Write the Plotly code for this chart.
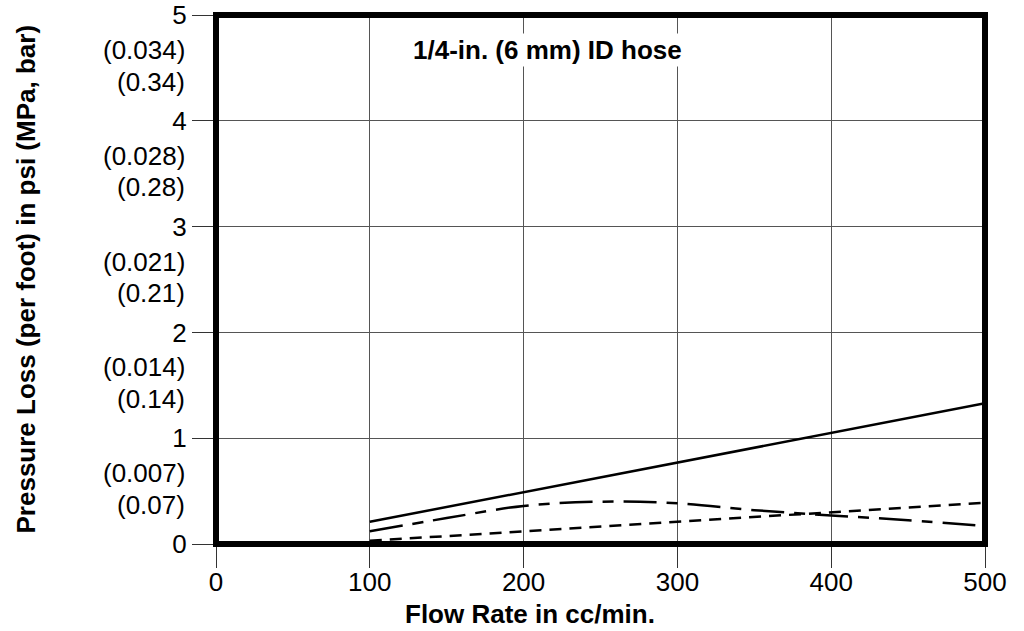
import plotly.graph_objects as go

# ---- data ----
flow_solid = [100, 200, 300, 400, 500]
loss_solid = [0.21, 0.49, 0.775, 1.05, 1.33]

flow_longdash = [100, 150, 200, 250, 300, 350, 400, 450, 500]
loss_longdash = [0.12, 0.245, 0.36, 0.40, 0.385, 0.32, 0.27, 0.225, 0.17]

flow_shortdash = [100, 200, 300, 400, 500]
loss_shortdash = [0.03, 0.12, 0.21, 0.30, 0.39]

x_ticks = [0, 100, 200, 300, 400, 500]
y_ticks = [0, 1, 2, 3, 4, 5]
mpa_labels = ["(0.007)", "(0.014)", "(0.021)", "(0.028)", "(0.034)"]
bar_labels = ["(0.07)", "(0.14)", "(0.21)", "(0.28)", "(0.34)"]
metric_ticks = [1, 2, 3, 4, 5]

FONT = "Liberation Sans, Arial, Helvetica, sans-serif"
FS = 26

fig = go.Figure()
fig.add_trace(go.Scatter(x=flow_solid, y=loss_solid, mode="lines",
                         line=dict(color="black", width=2.5), showlegend=False))
fig.add_trace(go.Scatter(x=flow_longdash, y=loss_longdash, mode="lines",
                         line=dict(color="black", width=2.5, shape="spline",
                                   dash="33px,10px,11px,10px"), showlegend=False))
fig.add_trace(go.Scatter(x=flow_shortdash, y=loss_shortdash, mode="lines",
                         line=dict(color="black", width=2.5, dash="12px,8px"),
                         showlegend=False))

annotations = []
for t, m, b in zip(metric_ticks, mpa_labels, bar_labels):
    annotations.append(dict(x=0, xref="paper", y=t - 0.33, yref="y", text=m,
                            showarrow=False, xanchor="right", yanchor="middle",
                            xshift=-29, font=dict(size=FS, color="black", family=FONT)))
    annotations.append(dict(x=0, xref="paper", y=t - 0.63, yref="y", text=b,
                            showarrow=False, xanchor="right", yanchor="middle",
                            xshift=-29, font=dict(size=FS, color="black", family=FONT)))

annotations.append(dict(x=0.431, xref="paper", y=4.67, yref="y",
                        text="<b>1/4-in. (6 mm) ID hose</b>", showarrow=False,
                        xanchor="center", yanchor="middle", bgcolor="white",
                        font=dict(size=FS, color="black", family=FONT)))
annotations.append(dict(x=0.408, xref="paper", y=-0.133, yref="paper",
                        text="<b>Flow Rate in cc/min.</b>", showarrow=False,
                        xanchor="center", yanchor="middle",
                        font=dict(size=FS, color="black", family=FONT)))
annotations.append(dict(x=0, xref="paper", xshift=-191, y=0.5, yref="paper",
                        text="<b>Pressure Loss (per foot) in psi (MPa, bar)</b>",
                        textangle=-90, showarrow=False,
                        xanchor="center", yanchor="middle",
                        font=dict(size=FS, color="black", family=FONT)))

fig.update_layout(
    width=1024, height=631,
    margin=dict(l=216, r=39, t=15, b=87),
    paper_bgcolor="white", plot_bgcolor="white",
    font=dict(family=FONT, size=FS, color="black"),
    annotations=annotations,
    shapes=[dict(type="rect", xref="paper", yref="paper", x0=0, y0=0, x1=1, y1=1,
                 line=dict(color="black", width=6), layer="above")],
    xaxis=dict(range=[0, 500], tickvals=x_ticks, showgrid=True, automargin=False,
               gridcolor="#555555", gridwidth=1, zeroline=False, showline=False,
               ticks="outside", ticklen=23, tickwidth=1, tickcolor="#333333",
               ticklabelstandoff=-8, ticklabeloverflow="allow",
               tickfont=dict(size=FS, family=FONT, color="black")),
    yaxis=dict(range=[0, 5], tickvals=y_ticks, showgrid=True, automargin=False,
               gridcolor="#555555", gridwidth=1, zeroline=False, showline=False,
               ticks="outside", ticklen=23, tickwidth=1, tickcolor="#333333",
               ticklabeloverflow="allow",
               tickfont=dict(size=FS, family=FONT, color="black")),
)

fig.write_html("out.html", config={"displayModeBar": False},
               post_script="document.body.style.margin='0px';")
